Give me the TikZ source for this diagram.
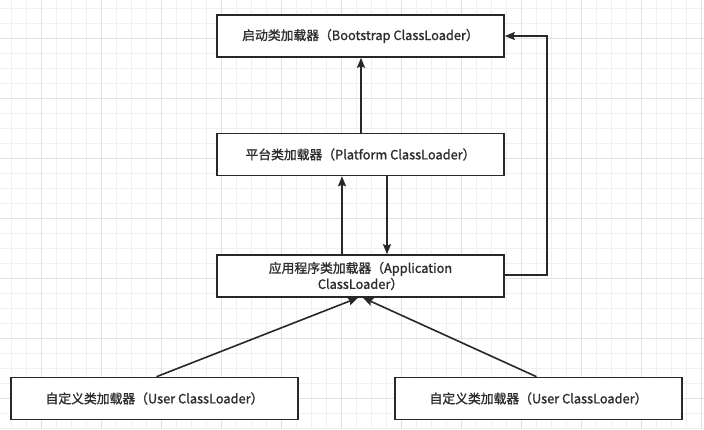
\documentclass[tikz,border=0pt]{standalone}
\usepackage{fontspec}
\setmainfont{Noto Sans CJK SC}[FakeBold=1.4]
\usetikzlibrary{arrows.meta}
\definecolor{gridminor}{RGB}{240,240,240}
\definecolor{gridmajor}{RGB}{225,225,225}
\definecolor{ink}{RGB}{40,40,40}
\definecolor{txt}{RGB}{45,45,45}
\tikzset{
  loader/.style={draw=ink, line width=1.6pt, fill=white, rectangle,
    minimum width=287pt, minimum height=42pt, inner sep=0pt,
    font=\fontsize{12.8}{16}\selectfont, text=txt, align=center},
  arr/.style={draw=ink, line width=1.6pt,
    -{Stealth[length=10pt,width=8pt,inset=1.5pt]}}
}
\begin{document}
\begin{tikzpicture}[x=1pt,y=-1pt]
\useasboundingbox (0,0) rectangle (704,429);
\fill[white] (0,0) rectangle (704,429);
% grid
\foreach \k in {0,...,46} {
  \pgfmathsetmacro{\gx}{11.7+15*\k}
  \draw[gridminor, line width=0.8pt] (\gx,0) -- (\gx,429);
}
\foreach \k in {0,...,28} {
  \pgfmathsetmacro{\gy}{8.3+15*\k}
  \draw[gridminor, line width=0.8pt] (0,\gy) -- (704,\gy);
}
\foreach \k in {0,...,11} {
  \pgfmathsetmacro{\gx}{41.7+60*\k}
  \draw[gridmajor, line width=0.9pt] (\gx,0) -- (\gx,429);
}
\foreach \k in {0,...,6} {
  \pgfmathsetmacro{\gy}{38.3+60*\k}
  \draw[gridmajor, line width=0.9pt] (0,\gy) -- (704,\gy);
}
% nodes
\node[loader] (boot) at (360.5,36) {启动类加载器（Bootstrap ClassLoader）};
\node[loader] (plat) at (360.5,154.5) {平台类加载器（Platform ClassLoader）};
\node[loader] (app)  at (360.5,276) {应用程序类加载器（Application\\ClassLoader）};
\node[loader] (user1) at (154.5,398.5) {自定义类加载器（User ClassLoader）};
\node[loader] (user2) at (538.5,398.5) {自定义类加载器（User ClassLoader）};
\coordinate (xup) at (342,0);
\coordinate (xdn) at (387,0);
\coordinate (xmid) at (361,0);
% connectors
\draw[arr] (plat.north -| xmid) -- (boot.south -| xmid);
\draw[arr] (app.north -| xup) -- (plat.south -| xup);
\draw[arr] (plat.south -| xdn) -- (app.north -| xdn);
\draw[arr] ([yshift=1pt]app.east) -- ++(42,0) |- (boot.east);
\draw[arr] ([xshift=2pt]user1.north) -- ([xshift=-2.5pt]app.south);
\draw[arr] ([xshift=-2pt]user2.north) -- ([xshift=2.5pt]app.south);
\end{tikzpicture}
\end{document}
